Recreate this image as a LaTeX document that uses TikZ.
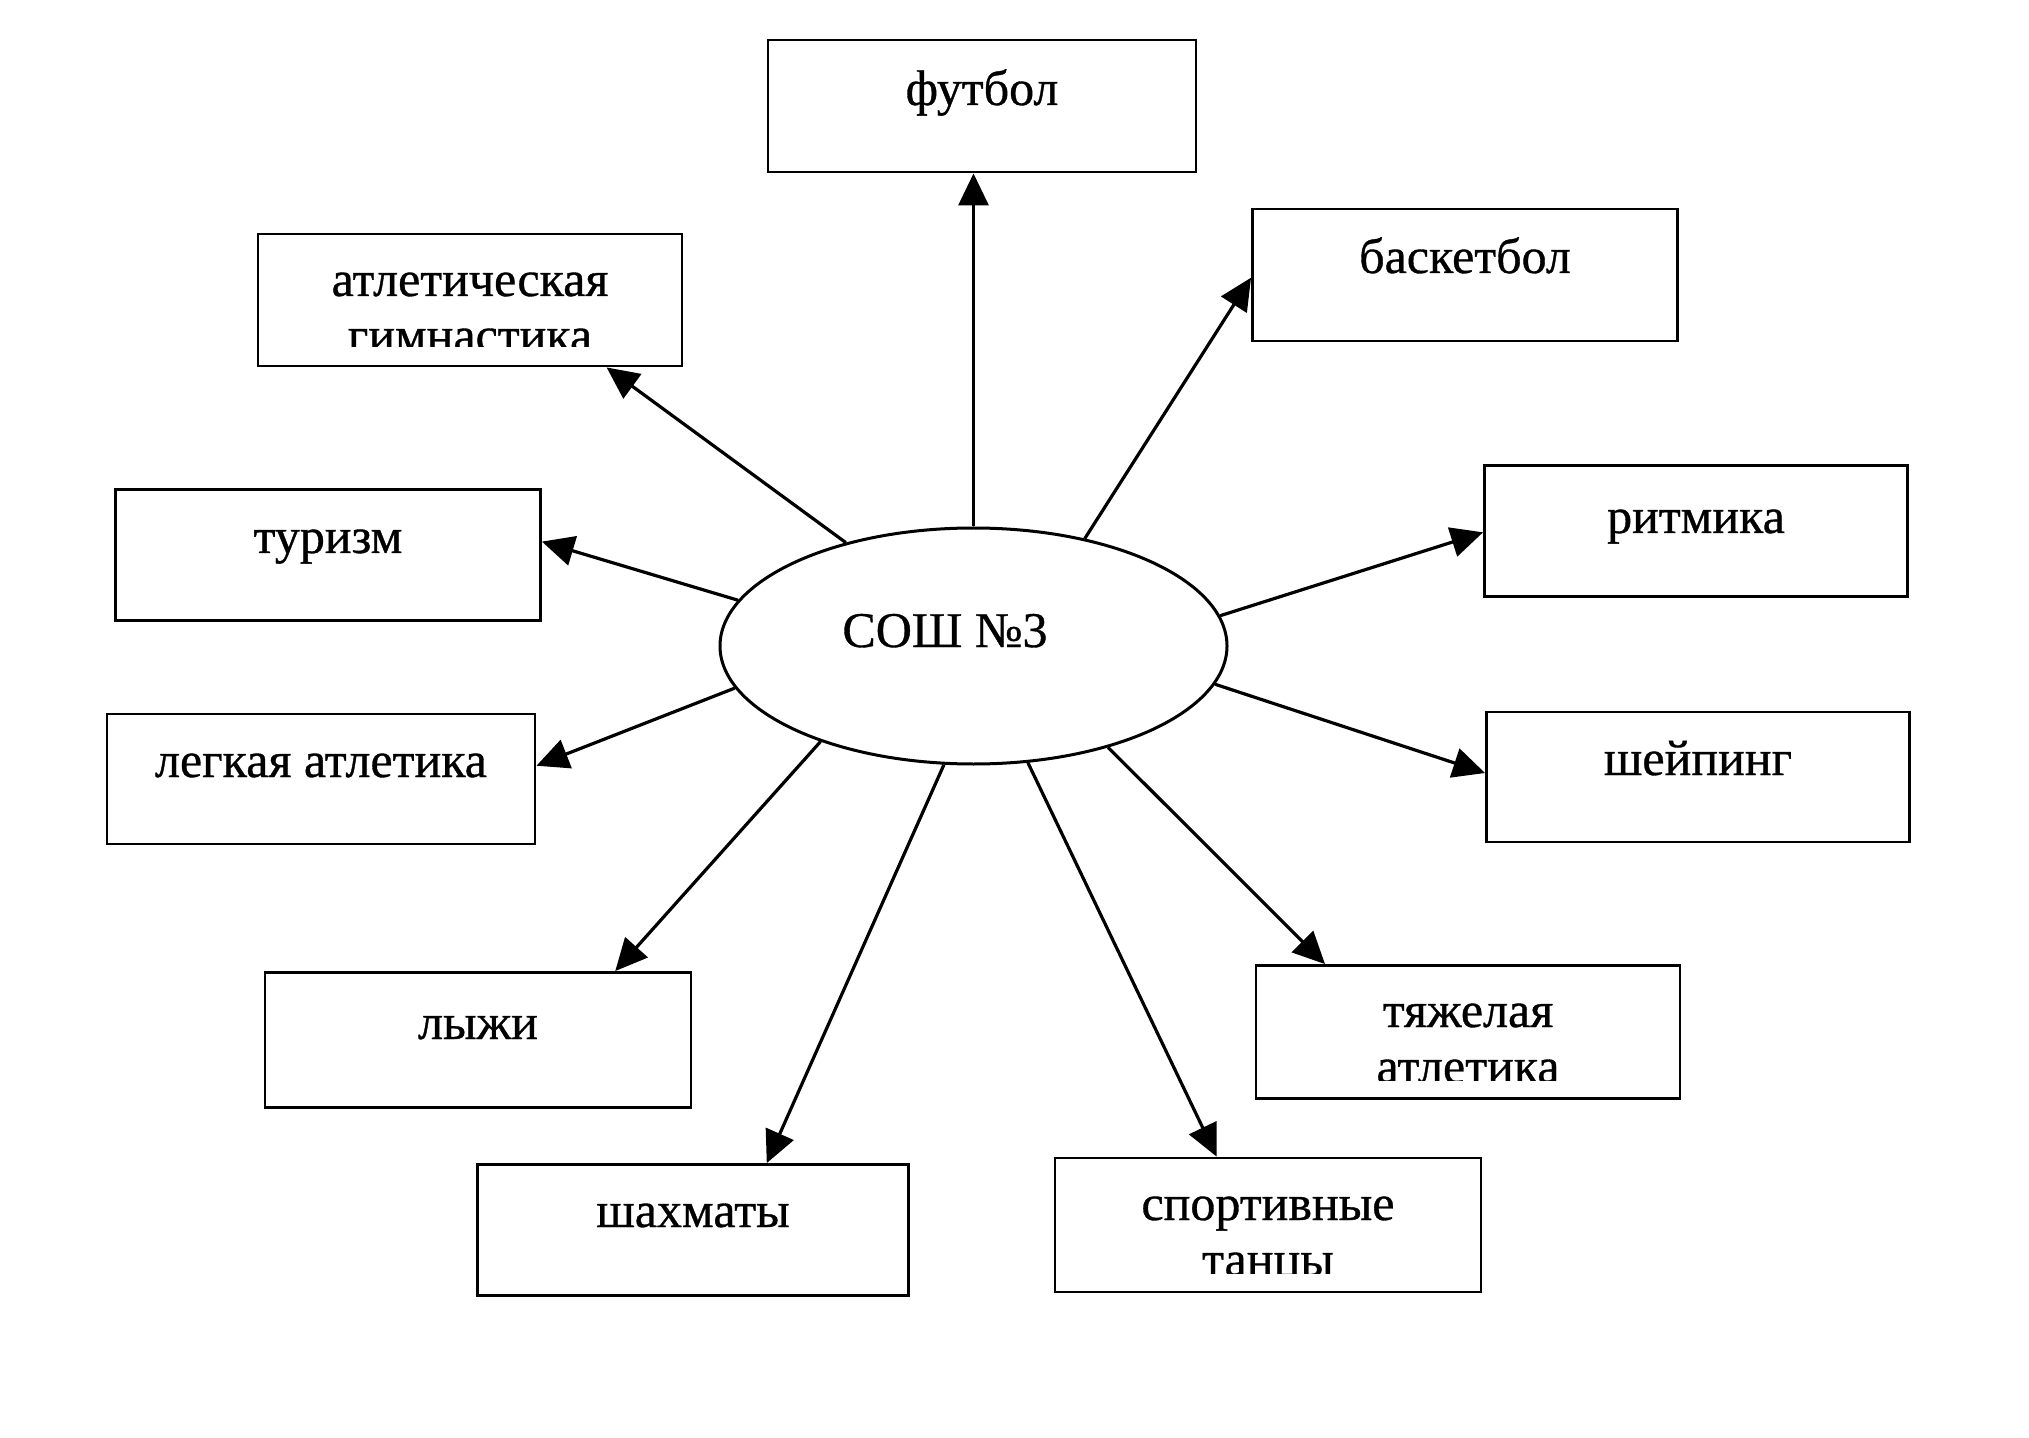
\documentclass[tikz,border=0pt]{standalone}
\usepackage{fontspec}
\setmainfont{Liberation Serif}
\newfontfamily\scanfont{Liberation Serif}[FakeBold=0.7]
\usetikzlibrary{arrows.meta,shapes.geometric,calc}
\begin{document}
\begin{tikzpicture}[x=0.5pt,y=-0.5pt,
 box/.style={draw, line width=1.45pt, inner sep=0pt},
 lbl/.style={anchor=base, inner sep=0pt, font=\scanfont\fontsize{25}{28}\selectfont},
 conn/.style={-{Triangle[length=16pt,width=15pt]}, line width=1.6pt},
 hub/.style={draw, ellipse, line width=1.5pt, inner sep=0pt, minimum width=253.5pt, minimum height=118pt}]
\useasboundingbox (0,0) rectangle (2029,1438);
% hub
\node[hub] (e) at (973.5,646) {};
\node[lbl] (et) at (945,647) {СОШ №3};
% boxes
\node[box, minimum width=214pt, minimum height=66pt] (fut) at (982,106) {};
\node[box, minimum width=212pt, minimum height=66pt] (gimn) at (470,300) {};
\node[box, minimum width=212.5pt, minimum height=66pt] (bask) at (1465,275) {};
\node[box, minimum width=212.5pt, minimum height=65.5pt] (tur) at (328,555) {};
\node[box, minimum width=211.5pt, minimum height=65.5pt] (ritm) at (1696,531) {};
\node[box, minimum width=214pt, minimum height=65pt] (legk) at (321,779) {};
\node[box, minimum width=211.5pt, minimum height=65pt] (shey) at (1698,777) {};
\node[box, minimum width=213pt, minimum height=67.5pt] (lyzh) at (478,1040) {};
\node[box, minimum width=212pt, minimum height=66.5pt] (tyazh) at (1468,1032) {};
\node[box, minimum width=215.5pt, minimum height=65.5pt] (shakh) at (693,1230) {};
\node[box, minimum width=213pt, minimum height=67pt] (tants) at (1268,1225) {};
% labels
\node[lbl] (fut-t) at (982,105) {футбол};
\node[lbl] (gimn-t1) at (470,296) {атлетическая};
\begin{scope}
\clip (258,234) rectangle (682,347);
\node[lbl] (gimn-t2) at (470,352) {гимнастика};
\end{scope}
\node[lbl] (bask-t) at (1465,273) {баскетбол};
\node[lbl] (tur-t) at (328,553) {туризм};
\node[lbl] (ritm-t) at (1696,533) {ритмика};
\node[lbl] (legk-t) at (321,777) {легкая атлетика};
\node[lbl] (shey-t) at (1698,775) {шейпинг};
\node[lbl] (lyzh-t) at (478,1039) {лыжи};
\node[lbl] (tyazh-t1) at (1468,1027) {тяжелая};
\begin{scope}
\clip (1256,966) rectangle (1680,1080);
\node[lbl] (tyazh-t2) at (1468,1083) {атлетика};
\end{scope}
\node[lbl] (shakh-t) at (693,1227) {шахматы};
\node[lbl] (tants-t1) at (1268,1220) {спортивные};
\begin{scope}
\clip (1055,1158) rectangle (1481,1273);
\node[lbl] (tants-t2) at (1268,1276) {танцы};
\end{scope}
% connectors
\draw[conn] (e.north) -- (e.north |- fut.south);
\draw[conn] (e.141) -- ($(gimn.south west)!0.82!(gimn.south east)$);
\draw[conn] (e.44) -- ($(bask.north west)!0.52!(bask.south west)$);
\draw[conn] (e.169) -- ($(tur.north east)!0.40!(tur.south east)$);
\draw[conn] (e.7) -- ($(ritm.north west)!0.51!(ritm.south west)$);
\draw[conn] (e.190.5) -- ($(legk.north east)!0.40!(legk.south east)$);
\draw[conn] (e.351.6) -- ($(shey.north west)!0.47!(shey.south west)$);
\draw[conn] (e.212.6) -- ($(lyzh.north west)!0.82!(lyzh.north east)$);
\draw[conn] (e.256.6) -- ($(shakh.north west)!0.67!(shakh.north east)$);
\draw[conn] (e.323.2) -- ($(tyazh.north west)!0.165!(tyazh.north east)$);
\draw[conn] (e.295.7) -- ($(tants.north west)!0.38!(tants.north east)$);
\end{tikzpicture}
\end{document}
